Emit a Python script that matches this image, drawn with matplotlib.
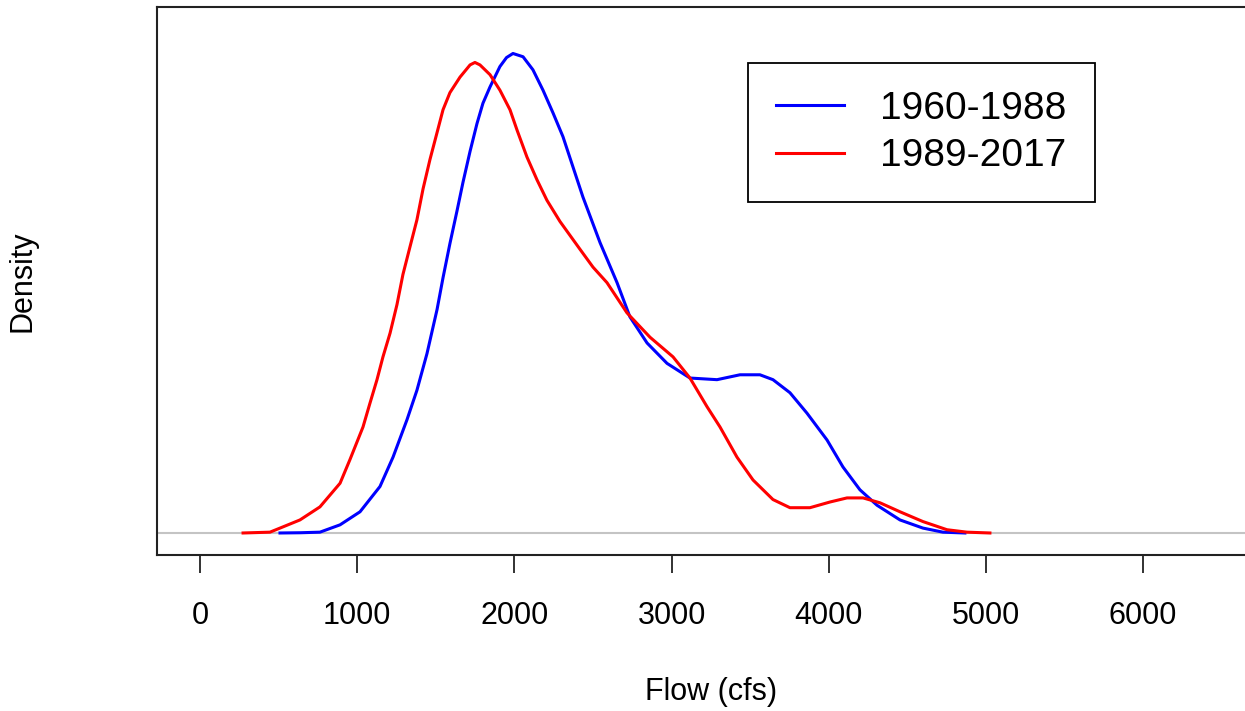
import matplotlib.pyplot as plt
import numpy as np

plt.rcParams['font.family'] = ['Liberation Sans', 'DejaVu Sans']

# density estimates (flow in cfs, density in 1e-4 units)
flow_early = [509, 640, 763, 891, 1018, 1145, 1228, 1317, 1380, 1444, 1508, 1546,
              1590, 1635, 1673, 1718, 1762, 1800, 1845, 1908, 1950, 1991, 2055, 2118,
              2182, 2246, 2309, 2436, 2545, 2653, 2735, 2844, 2971, 3117, 3289,
              3435, 3562, 3645, 3753, 3861, 3989, 4090, 4198, 4307, 4453, 4599, 4726,
              4866]
dens_early = [0.00, 0.003, 0.01, 0.10, 0.26, 0.57, 0.93, 1.39, 1.75, 2.20, 2.74, 3.13,
              3.55, 3.95, 4.30, 4.68, 5.02, 5.27, 5.47, 5.72, 5.83, 5.88, 5.84, 5.68,
              5.43, 5.15, 4.86, 4.12, 3.56, 3.07, 2.65, 2.33, 2.08, 1.90, 1.88,
              1.94, 1.94, 1.88, 1.72, 1.47, 1.14, 0.81, 0.53, 0.34, 0.16, 0.06, 0.01,
              0.00]

flow_late = [274, 445, 509, 636, 763, 891, 954, 1037, 1081, 1126, 1164, 1209, 1253,
             1291, 1336, 1380, 1419, 1463, 1508, 1546, 1590, 1654, 1718, 1749, 1781,
             1845, 1908, 1972, 2017, 2080, 2144, 2207, 2290, 2417, 2500, 2589, 2716,
             2863, 3009, 3117, 3225, 3308, 3416, 3518, 3645, 3753, 3880, 4008, 4116,
             4218, 4326, 4453, 4599, 4752, 4879, 5025]
dens_late = [0.00, 0.01, 0.06, 0.16, 0.32, 0.61, 0.90, 1.30, 1.59, 1.88, 2.16, 2.45,
             2.80, 3.17, 3.51, 3.84, 4.22, 4.58, 4.91, 5.19, 5.40, 5.59, 5.74, 5.77,
             5.74, 5.62, 5.43, 5.19, 4.94, 4.61, 4.33, 4.08, 3.82, 3.48, 3.26, 3.07,
             2.70, 2.40, 2.16, 1.90, 1.55, 1.30, 0.93, 0.65, 0.41, 0.31, 0.31, 0.38,
             0.43, 0.43, 0.37, 0.26, 0.14, 0.04, 0.01, 0.00]

labels = ['1960-1988', '1989-2017']
xticks = [0, 1000, 2000, 3000, 4000, 5000, 6000]

fig = plt.figure(figsize=(12.45, 7.11), dpi=100)
ax = fig.add_axes([157/1245, 156/711, 1108/1245, 548/711])

ax.axhline(0, color='#c4c4c4', lw=1.5, zorder=1)
ax.plot(flow_early, np.array(dens_early)*1e-4, color='blue', lw=2.2, label=labels[0])
ax.plot(flow_late, np.array(dens_late)*1e-4, color='red', lw=2.2, label=labels[1])

ax.set_xlim(-273.5, 6775)
ax.set_ylim(-0.27e-4, 6.45e-4)
ax.set_yticks([])
ax.set_xticks(xticks)
ax.tick_params(axis='x', length=13, width=1.3, pad=20, labelsize=22, color='#222222')
for s in ax.spines.values():
    s.set_linewidth(1.5)
    s.set_color('#222222')

ax.set_xlabel('Flow (cfs)', fontsize=22, labelpad=33)
ax.set_ylabel('Density', fontsize=22)
ax.yaxis.set_label_coords(-(157-37)/1108, 0.5)

leg = ax.legend(loc='upper left', bbox_to_anchor=(748/1245, 1-63/711),
                bbox_transform=fig.transFigure, borderaxespad=0, fontsize=28,
                handlelength=1.75, handletextpad=0.93, borderpad=0.72,
                labelspacing=0.29, fancybox=False, edgecolor='black', framealpha=1)
leg.get_frame().set_linewidth(1.3)

fig.savefig('out.png', dpi=100)
